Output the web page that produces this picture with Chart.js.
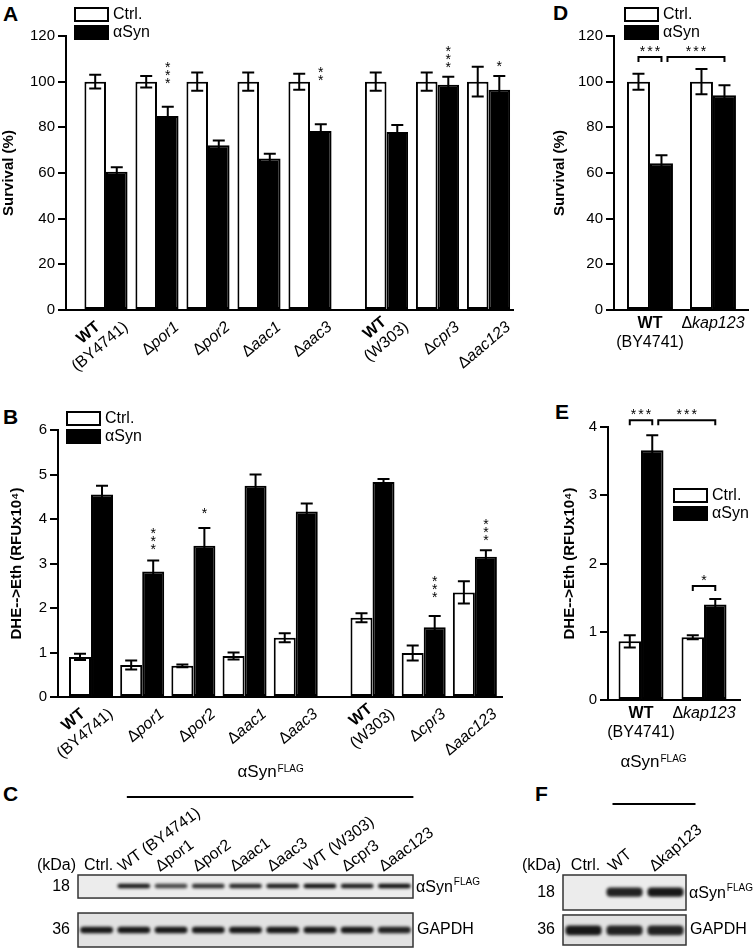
<!DOCTYPE html>
<html>
<head>
<meta charset="utf-8">
<script src="https://cdn.jsdelivr.net/npm/chart.js@4.4.0/dist/chart.umd.min.js"></script>
<style>
  body { margin: 0; background: #fff; width: 755px; height: 949px; position: relative; overflow: hidden;
         font-family: "Liberation Sans", Arial, sans-serif; }
  canvas { position: absolute; }
  .tag { position: absolute; font: bold 21px "Liberation Sans", Arial, sans-serif; color: #000; }
</style>
</head>
<body>
<div class="tag" style="left:3px;top:2px">A</div>
<div class="tag" style="left:3px;top:405px">B</div>
<div class="tag" style="left:3px;top:782px">C</div>
<div class="tag" style="left:553px;top:1px">D</div>
<div class="tag" style="left:555px;top:400px">E</div>
<div class="tag" style="left:535px;top:782px">F</div>

<canvas id="chartA" width="520" height="395" style="left:0;top:0"></canvas>
<canvas id="chartB" width="520" height="390" style="left:0;top:395px"></canvas>
<canvas id="chartD" width="235" height="395" style="left:520px;top:0"></canvas>
<canvas id="chartE" width="235" height="390" style="left:520px;top:395px"></canvas>
<canvas id="blotC" width="480" height="199" style="left:0;top:750px"></canvas>
<canvas id="blotF" width="235" height="199" style="left:520px;top:750px"></canvas>

<script>
// ---- data ----
var strains = ['WT (BY4741)', 'Δpor1', 'Δpor2', 'Δaac1', 'Δaac3', 'WT (W303)', 'Δcpr3', 'Δaac123'];

// A: survival (%)
var survCtrl = [100, 100, 100, 100, 100, 100, 100, 100];
var survCtrlErr = [3, 2.5, 4, 4, 3.5, 4, 4, 6.5];
var survSyn = [60.5, 85, 72.2, 66.4, 78.4, 78, 98.7, 96.5];
var survSynErr = [2, 4, 2, 2, 3, 3, 3.5, 6];
var survStars = ['', '***', '', '', '**', '', '***', '*'];
var survStarsAt = [0, 100.7, 0, 0, 102, 0, 107.7, 108.2];

// B: DHE -> Eth (RFU x10^4)
var dheCtrl = [0.9, 0.72, 0.7, 0.92, 1.33, 1.78, 0.99, 2.35];
var dheCtrlErr = [0.07, 0.1, 0.03, 0.08, 0.1, 0.1, 0.17, 0.25];
var dheSyn = [4.55, 2.82, 3.4, 4.75, 4.17, 4.83, 1.57, 3.15];
var dheSynErr = [0.2, 0.25, 0.4, 0.25, 0.18, 0.07, 0.25, 0.15];
var dheStars = ['', '***', '*', '', '', '', '***', '***'];
var dheStarsAt = [0, 3.39, 4.2, 0, 0, 0, 2.31, 3.6];

// D, E: kap123
var kapStrains = ['WT (BY4741)', 'Δkap123'];
var kapSurvCtrl = [100, 100];
var kapSurvCtrlErr = [3.5, 5.5];
var kapSurvSyn = [64.3, 94];
var kapSurvSynErr = [3.5, 4.4];
var kapDheCtrl = [0.86, 0.92];
var kapDheCtrlErr = [0.09, 0.03];
var kapDheSyn = [3.66, 1.4];
var kapDheSynErr = [0.22, 0.08];
// significance brackets: [dataset, group] to [dataset, group], height, mark
var kapSurvSig = [{a: [0, 0], b: [1, 0], y: 110.8, mark: '***'}, {a: [1, 0], b: [1, 1], y: 110.8, mark: '***'}];
var kapDheSig = [{a: [0, 0], b: [1, 0], y: 4.1, mark: '***'}, {a: [1, 0], b: [1, 1], y: 4.1, mark: '***'},
                 {a: [0, 1], b: [1, 1], y: 1.67, mark: '*'}];

// C, F: western blots (band intensity 0..1)
var lanesC = ['Ctrl.', 'WT (BY4741)', 'Δpor1', 'Δpor2', 'Δaac1', 'Δaac3', 'WT (W303)', 'Δcpr3', 'Δaac123'];
var synBandC = [0, 0.95, 0.75, 0.85, 0.9, 0.95, 1, 0.95, 1];
var gapdhBandC = [0.95, 0.95, 0.95, 0.95, 0.95, 0.95, 0.95, 0.95, 0.9];
var lanesF = ['Ctrl.', 'WT', 'Δkap123'];
var synBandF = [0, 0.9, 0.95];
var gapdhBandF = [0.95, 0.9, 0.9];

var FONT = '"Liberation Sans", Arial, sans-serif';

// ---- text helpers ----
function strainLines(s) {
  if (s.indexOf('WT') === 0) {
    var rest = s.slice(2).trim();
    return rest ? [[{t: 'WT', b: true}], [{t: rest}]] : [[{t: 'WT', b: true}]];
  }
  if (s.charAt(0) === 'Δ') return [[{t: 'Δ'}, {t: s.slice(1), i: true}]];
  return [[{t: s}]];
}
function setFont(ctx, p, size) {
  ctx.font = (p.i ? 'italic ' : '') + (p.b ? 'bold ' : '') + size + 'px ' + FONT;
}
function richWidth(ctx, parts, size) {
  var w = 0;
  parts.forEach(function(p) { setFont(ctx, p, size); w += ctx.measureText(p.t).width; });
  return w;
}
function drawRich(ctx, parts, x, y, size) {
  parts.forEach(function(p) {
    setFont(ctx, p, size);
    ctx.fillText(p.t, x, y);
    x += ctx.measureText(p.t).width;
  });
}
function drawSyn(ctx, x, y, size, align) {
  ctx.font = size + 'px ' + FONT;
  var w1 = ctx.measureText('αSyn').width;
  ctx.font = Math.round(size * 0.6) + 'px ' + FONT;
  var w2 = ctx.measureText('FLAG').width;
  var x0 = align === 'center' ? x - (w1 + w2) / 2 : x;
  ctx.textAlign = 'left';
  ctx.font = size + 'px ' + FONT;
  ctx.fillText('αSyn', x0, y);
  ctx.font = Math.round(size * 0.6) + 'px ' + FONT;
  ctx.fillText('FLAG', x0 + w1 + 1, y - size * 0.3);
}
function drawStar(ctx, x, y, size) {
  ctx.font = size + 'px ' + FONT;
  ctx.textAlign = 'center';
  ctx.textBaseline = 'alphabetic';
  ctx.fillText('*', x, y + size * 0.55);
}

// ---- bar panels ----
function panelPlugin(cfg) {
  return {
    id: 'panel',
    afterDatasetsDraw: function(chart) {
      var ctx = chart.ctx, ys = chart.scales.y;
      ctx.save();
      ctx.strokeStyle = '#000';
      ctx.fillStyle = '#000';
      ctx.lineWidth = 2;
      // error bars
      [cfg.ctrlErr, cfg.synErr].forEach(function(errs, di) {
        var meta = chart.getDatasetMeta(di), ds = chart.data.datasets[di];
        meta.data.forEach(function(bar, i) {
          var v = ds.data[i].y, e = errs[i];
          var top = ys.getPixelForValue(v + e), bot = ys.getPixelForValue(v - e);
          ctx.beginPath();
          ctx.moveTo(bar.x, top); ctx.lineTo(bar.x, bot);
          ctx.moveTo(bar.x - 6, top); ctx.lineTo(bar.x + 6, top);
          ctx.moveTo(bar.x - 6, bot); ctx.lineTo(bar.x + 6, bot);
          ctx.stroke();
        });
      });
      // vertical star stacks over the aSyn bars
      if (cfg.stars) {
        var sm = chart.getDatasetMeta(1);
        cfg.stars.forEach(function(s, i) {
          if (!s) return;
          var y0 = ys.getPixelForValue(cfg.starsAt[i]);
          for (var k = 0; k < s.length; k++) drawStar(ctx, sm.data[i].x, y0 - k * 8, 14);
        });
      }
      // brackets
      if (cfg.sig) {
        var prevEnd = null;
        cfg.sig.forEach(function(s) {
          var a = chart.getDatasetMeta(s.a[0]).data[s.a[1]];
          var b = chart.getDatasetMeta(s.b[0]).data[s.b[1]];
          var x0 = a.x, x1 = b.x;
          if (prevEnd && prevEnd[0] === s.a[0] && prevEnd[1] === s.a[1]) x0 += 6;
          prevEnd = s.b;
          var y = ys.getPixelForValue(s.y);
          ctx.beginPath();
          ctx.moveTo(x0, y + 5); ctx.lineTo(x0, y); ctx.lineTo(x1, y); ctx.lineTo(x1, y + 5);
          ctx.stroke();
          var cx = (x0 + x1) / 2, n = s.mark.length;
          for (var k = 0; k < n; k++) drawStar(ctx, cx + (k - (n - 1) / 2) * 7.5, y - 9, 14);
        });
      }
      ctx.restore();
    },
    afterDraw: function(chart) {
      var ctx = chart.ctx, xs = chart.scales.x, ys = chart.scales.y;
      var zero = ys.getPixelForValue(0);
      ctx.save();
      ctx.fillStyle = '#000';
      // legend
      var lg = cfg.legend;
      ctx.strokeStyle = '#000';
      ctx.lineWidth = 2;
      ctx.strokeRect(lg[0] + 1, lg[1] + 1, 33, 13);
      ctx.fillRect(lg[0], lg[1] + 18, 35, 15);
      ctx.font = '16px ' + FONT;
      ctx.textAlign = 'left';
      ctx.textBaseline = 'middle';
      ctx.fillText('Ctrl.', lg[0] + 39, lg[1] + 8);
      ctx.fillText('αSyn', lg[0] + 39, lg[1] + 26);
      // category labels
      cfg.labels.forEach(function(s, i) {
        var lines = strainLines(s), cx = xs.getPixelForValue(cfg.pos[i]);
        ctx.textBaseline = 'middle';
        ctx.textAlign = 'left';
        if (cfg.rotate) {
          var W = 0;
          lines.forEach(function(l) { W = Math.max(W, richWidth(ctx, l, 16)); });
          ctx.save();
          ctx.translate(cx + 20, zero + 15);
          ctx.rotate(-cfg.rotate * Math.PI / 180);
          lines.forEach(function(l, k) {
            var w = richWidth(ctx, l, 16);
            drawRich(ctx, l, -W / 2 - w / 2, (k - (lines.length - 1)) * 18, 16);
          });
          ctx.restore();
        } else {
          lines.forEach(function(l, k) {
            var w = richWidth(ctx, l, 16);
            drawRich(ctx, l, cx - w / 2, zero + 14 + k * 19, 16);
          });
        }
      });
      ctx.restore();
    }
  };
}

function barPanel(id, cfg) {
  var pts = function(vals) { return vals.map(function(v, i) { return {x: cfg.pos[i], y: v}; }); };
  return new Chart(document.getElementById(id), {
    type: 'bar',
    data: {
      datasets: [
        {label: 'Ctrl.', data: pts(cfg.ctrl), backgroundColor: '#fff', borderColor: '#000', borderWidth: 2,
         borderSkipped: false, categoryPercentage: cfg.catPct, barPercentage: 1},
        {label: 'αSyn', data: pts(cfg.syn), backgroundColor: '#000', borderColor: '#000', borderWidth: 2,
         borderSkipped: false, categoryPercentage: cfg.catPct, barPercentage: 1}
      ]
    },
    options: {
      responsive: false, animation: false, devicePixelRatio: 1,
      layout: {padding: cfg.pad},
      plugins: {legend: {display: false}, tooltip: {enabled: false}},
      scales: {
        x: {type: 'linear', min: cfg.xMin, max: cfg.xMax, offset: false,
            ticks: {display: false}, grid: {display: false, offset: false},
            border: {display: true, color: '#000', width: 2},
            afterFit: function(s) { s.height = 0; }},
        y: {min: 0, max: cfg.yMax,
            ticks: {stepSize: cfg.yStep, color: '#000', font: {size: 15, family: FONT}, padding: 3},
            grid: {drawOnChartArea: false, color: '#000', lineWidth: 2, tickLength: 8},
            border: {display: true, color: '#000', width: 2},
            title: {display: true, text: cfg.title, color: '#000', padding: 0,
                    font: {size: 15, weight: 'bold', family: FONT}},
            afterFit: function(s) { s.width = cfg.yWidth; }}
      }
    },
    plugins: [panelPlugin(cfg)]
  });
}

// group positions: a half-slot gap separates the BY4741 and W303 backgrounds
var strainPos = strains.map(function(s, i) { return i + (i > 4 ? 0.5 : 0); });
var kapPos = kapStrains.map(function(s, i) { return i; });

barPanel('chartA', {
  labels: strains, pos: strainPos, ctrl: survCtrl, ctrlErr: survCtrlErr, syn: survSyn, synErr: survSynErr,
  stars: survStars, starsAt: survStarsAt, yMax: 120, yStep: 20, title: 'Survival (%)',
  xMin: -0.784, xMax: 7.98, catPct: 0.863, pad: {left: 0, top: 36, right: 7, bottom: 85}, yWidth: 66,
  legend: [74, 7], rotate: 40
});
barPanel('chartB', {
  labels: strains, pos: strainPos, ctrl: dheCtrl, ctrlErr: dheCtrlErr, syn: dheSyn, synErr: dheSynErr,
  stars: dheStars, starsAt: dheStarsAt, yMax: 6, yStep: 1, title: 'DHE-->Eth (RFUx10\u2074)',
  xMin: -0.645, xMax: 8.03, catPct: 0.86, pad: {left: 8, top: 35, right: 18, bottom: 88}, yWidth: 50,
  legend: [66, 16], rotate: 40
});
barPanel('chartD', {
  labels: kapStrains, pos: kapPos, ctrl: kapSurvCtrl, ctrlErr: kapSurvCtrlErr, syn: kapSurvSyn, synErr: kapSurvSynErr,
  sig: kapSurvSig, yMax: 120, yStep: 20, title: 'Survival (%)',
  xMin: -0.571, xMax: 1.556, catPct: 0.73, pad: {left: 31, top: 36, right: 7, bottom: 85}, yWidth: 63,
  legend: [104, 7], rotate: 0
});
barPanel('chartE', {
  labels: kapStrains, pos: kapPos, ctrl: kapDheCtrl, ctrlErr: kapDheCtrlErr, syn: kapDheSyn, synErr: kapDheSynErr,
  sig: kapDheSig, yMax: 4, yStep: 1, title: 'DHE-->Eth (RFUx10\u2074)',
  xMin: -0.524, xMax: 1.571, catPct: 0.714, pad: {left: 41, top: 32, right: 15, bottom: 85}, yWidth: 47,
  legend: [153, 93], rotate: 0
});

// ---- western blots ----
function blotPlugin(cfg) {
  return {
    id: 'blot',
    beforeDatasetsDraw: function(chart) {
      var ctx = chart.ctx, a = chart.chartArea, ys = chart.scales.y;
      ctx.save();
      cfg.rows.forEach(function(r, k) {
        var t = ys.getPixelForValue(r[1]), b = ys.getPixelForValue(r[0]);
        ctx.fillStyle = k === 0 ? '#ececec' : '#e2e2e2';
        ctx.fillRect(a.left, t, a.right - a.left, b - t);
        ctx.strokeStyle = '#333';
        ctx.lineWidth = 1.5;
        ctx.strokeRect(a.left, t, a.right - a.left, b - t);
      });
      ctx.restore();
      ctx.save();
      ctx.filter = 'blur(1.4px)';
    },
    afterDatasetsDraw: function(chart) {
      chart.ctx.restore();
    },
    afterDraw: function(chart) {
      var ctx = chart.ctx, a = chart.chartArea, xs = chart.scales.x, ys = chart.scales.y;
      ctx.save();
      ctx.fillStyle = '#000';
      ctx.textBaseline = 'alphabetic';
      // header
      var l1 = xs.getPixelForValue(1), lN = xs.getPixelForValue(cfg.lanes.length - 1);
      drawSyn(ctx, (l1 + lN) / 2 + cfg.headShift, cfg.headY, 17, 'center');
      ctx.strokeStyle = '#000';
      ctx.lineWidth = 2;
      ctx.beginPath();
      ctx.moveTo(l1 + cfg.lineExt[0], cfg.lineY);
      ctx.lineTo(lN + cfg.lineExt[1], cfg.lineY);
      ctx.stroke();
      // lane labels
      ctx.font = '16px ' + FONT;
      ctx.textBaseline = 'alphabetic';
      cfg.lanes.forEach(function(s, i) {
        var x = xs.getPixelForValue(i);
        if (i === 0) {
          ctx.textAlign = 'center';
          ctx.fillText(s, x + 2, cfg.labelY);
          return;
        }
        ctx.save();
        ctx.translate(x - 11, cfg.labelY + 2);
        ctx.rotate(-cfg.rotate * Math.PI / 180);
        ctx.textAlign = 'left';
        ctx.fillText(s, 0, 0);
        ctx.restore();
      });
      // kDa markers and row names
      ctx.textAlign = 'right';
      ctx.fillText('(kDa)', a.left - 2, cfg.labelY);
      ctx.textBaseline = 'middle';
      var m1 = ys.getPixelForValue((cfg.rows[0][0] + cfg.rows[0][1]) / 2);
      var m2 = ys.getPixelForValue((cfg.rows[1][0] + cfg.rows[1][1]) / 2);
      ctx.fillText('18', a.left - 8, m1);
      ctx.fillText('36', a.left - 8, m2);
      ctx.textAlign = 'left';
      ctx.fillText('GAPDH', a.right + 4, m2);
      drawSyn(ctx, a.right + 3, m1 + 1, 16, 'left');
      ctx.restore();
    }
  };
}

function blotPanel(id, cfg) {
  var bands = function(vals, span) { return vals.map(function(v) { return v > 0 ? span : null; }); };
  var shades = function(vals) { return vals.map(function(v) { return 'rgba(12,12,12,' + v + ')'; }); };
  return new Chart(document.getElementById(id), {
    type: 'bar',
    data: {
      labels: cfg.lanes,
      datasets: [
        {data: bands(cfg.syn, cfg.synSpan), backgroundColor: shades(cfg.syn), borderWidth: 0, borderRadius: 4,
         borderSkipped: false, grouped: false, categoryPercentage: 1, barPercentage: 0.88},
        {data: bands(cfg.gapdh, cfg.gapdhSpan), backgroundColor: shades(cfg.gapdh), borderWidth: 0, borderRadius: 4,
         borderSkipped: false, grouped: false, categoryPercentage: 1, barPercentage: 0.88}
      ]
    },
    options: {
      responsive: false, animation: false, devicePixelRatio: 1,
      layout: {padding: cfg.pad},
      plugins: {legend: {display: false}, tooltip: {enabled: false}},
      scales: {x: {display: false}, y: {display: false, min: 0, max: 10}}
    },
    plugins: [blotPlugin(cfg)]
  });
}

blotPanel('blotC', {
  lanes: lanesC, syn: synBandC, gapdh: gapdhBandC,
  rows: [[6.8, 10], [0, 4.72]], synSpan: [8.15, 8.8], gapdhSpan: [1.9, 2.8],
  pad: {left: 78, right: 67, top: 125, bottom: 2},
  headShift: 6, headY: 27, lineExt: [-7, 19], lineY: 47, labelY: 120, rotate: 36
});
blotPanel('blotF', {
  lanes: lanesF, syn: synBandF, gapdh: gapdhBandF,
  rows: [[5, 10], [0, 4.29]], synSpan: [6.9, 8.2], gapdhSpan: [1.4, 2.8],
  pad: {left: 43, right: 69, top: 125, bottom: 4},
  headShift: 8, headY: 17, lineExt: [-12, 30], lineY: 54, labelY: 120, rotate: 40
});
</script>
</body>
</html>
